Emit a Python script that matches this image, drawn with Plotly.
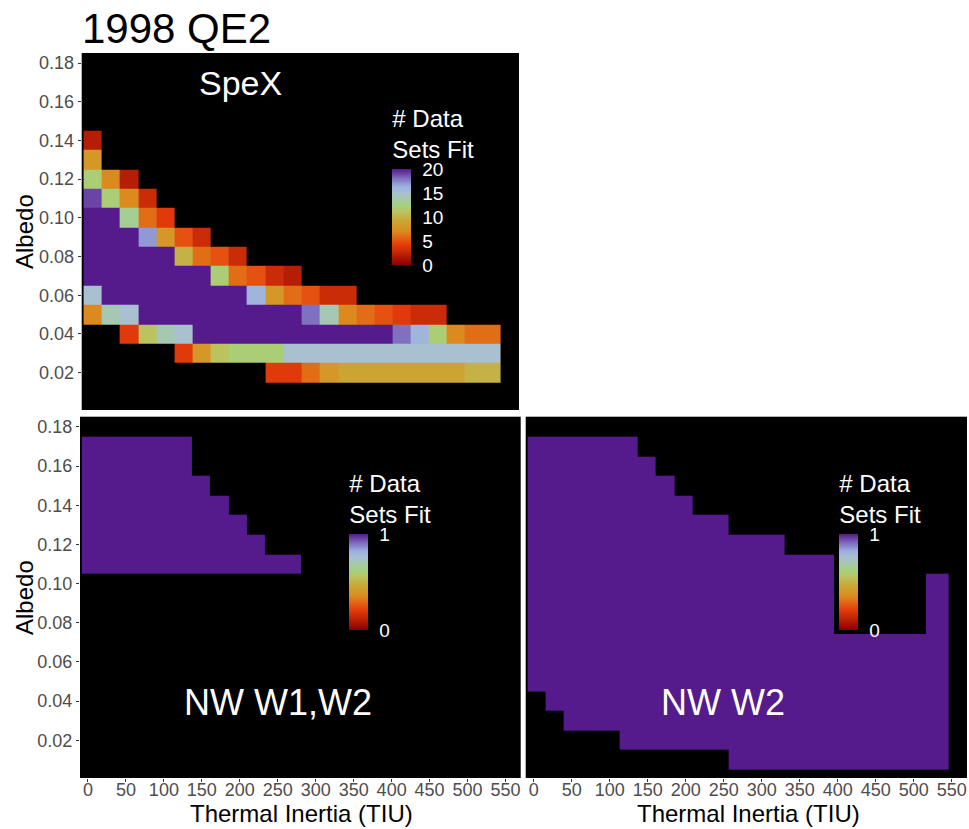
import plotly.graph_objects as go

# ---- data -------------------------------------------------------------
# thermal-inertia grid (TIU) and albedo grid of the model runs
thermal_inertia = [4, 28, 52, 77, 101, 125, 149, 173, 197, 221, 245, 269,
                   293, 318, 342, 366, 390, 414, 438, 462, 486, 510, 534]
albedo = [0.01, 0.02, 0.03, 0.04, 0.05, 0.06, 0.07, 0.08, 0.09,
          0.10, 0.11, 0.12, 0.13, 0.14, 0.15, 0.16, 0.17]
ti_ticks = [0, 50, 100, 150, 200, 250, 300, 350, 400, 450, 500, 550]
albedo_ticks = [0.02, 0.04, 0.06, 0.08, 0.10, 0.12, 0.14, 0.16, 0.18]

N = None
# SpeX: number of data sets fit, one list per albedo row
spex_a002 = [N, N, N, N, N, N, N, N, N, N, 4, 4, 6, 8, 9, 9, 9, 9, 9, 9, 9, 10, 10]
spex_a003 = [N, N, N, N, N, 4, 8, 11, 12, 12, 12, 15, 15, 15, 15, 15, 15, 15, 15, 15, 15, 15, 15]
spex_a004 = [N, N, 4, 11, 14, 15, 20, 20, 20, 20, 20, 20, 20, 20, 20, 20, 20, 18, 16, 12, 7, 6, 6]
spex_a005 = [7, 14, 15, 20, 20, 20, 20, 20, 20, 20, 20, 20, 18, 14, 7, 6, 5, 4, 3, 3, N, N, N]
spex_a006 = [15, 20, 20, 20, 20, 20, 20, 20, 20, 16, 8, 6, 5, 3, 3, N, N, N, N, N, N, N, N]
spex_a007 = [20, 20, 20, 20, 20, 20, 20, 12, 6, 5, 3, 2, N, N, N, N, N, N, N, N, N, N, N]
spex_a008 = [20, 20, 20, 20, 20, 10, 6, 5, 3, N, N, N, N, N, N, N, N, N, N, N, N, N, N]
spex_a009 = [20, 20, 20, 17, 8, 5, 3, N, N, N, N, N, N, N, N, N, N, N, N, N, N, N, N]
spex_a010 = [20, 20, 13, 6, 4, N, N, N, N, N, N, N, N, N, N, N, N, N, N, N, N, N, N]
spex_a011 = [19, 12, 7, 3, N, N, N, N, N, N, N, N, N, N, N, N, N, N, N, N, N, N, N]
spex_a012 = [12, 7, 2, N, N, N, N, N, N, N, N, N, N, N, N, N, N, N, N, N, N, N, N]
spex_a013 = [8, N, N, N, N, N, N, N, N, N, N, N, N, N, N, N, N, N, N, N, N, N, N]
spex_a014 = [2, N, N, N, N, N, N, N, N, N, N, N, N, N, N, N, N, N, N, N, N, N, N]

# NEOWISE fits: lowest and highest fitted albedo in each thermal-inertia column
nw12_low = [0.11, 0.11, 0.11, 0.11, 0.11, 0.11, 0.11, 0.11, 0.11, 0.11, 0.11, 0.11,
            N, N, N, N, N, N, N, N, N, N, N]
nw12_high = [0.17, 0.17, 0.17, 0.17, 0.17, 0.17, 0.15, 0.14, 0.13, 0.12, 0.11, 0.11,
             N, N, N, N, N, N, N, N, N, N, N]
nw2_low = [0.05, 0.04, 0.03, 0.03, 0.03, 0.02, 0.02, 0.02, 0.02, 0.02, 0.02, 0.01,
           0.01, 0.01, 0.01, 0.01, 0.01, 0.01, 0.01, 0.01, 0.01, 0.01, 0.01]
nw2_high = [0.17, 0.17, 0.17, 0.17, 0.17, 0.17, 0.16, 0.15, 0.14, 0.13, 0.13, 0.12,
            0.12, 0.12, 0.11, 0.11, 0.11, 0.11, 0.11, 0.11, 0.11, 0.10, 0.10]

# ---- grids --------------------------------------------------------------
empty_row = [N] * len(thermal_inertia)
spex_rows = {0.02: spex_a002, 0.03: spex_a003, 0.04: spex_a004, 0.05: spex_a005,
             0.06: spex_a006, 0.07: spex_a007, 0.08: spex_a008, 0.09: spex_a009,
             0.10: spex_a010, 0.11: spex_a011, 0.12: spex_a012, 0.13: spex_a013,
             0.14: spex_a014}
spex_z = [spex_rows.get(a, empty_row) for a in albedo]


def fit_mask(low, high):
    z = []
    for a in albedo:
        row = []
        for lo, hi in zip(low, high):
            ok = lo is not None and lo - 1e-9 <= a <= hi + 1e-9
            row.append(1 if ok else None)
        z.append(row)
    return z


nw12_z = fit_mask(nw12_low, nw12_high)
nw2_z = fit_mask(nw2_low, nw2_high)

# ---- styling ------------------------------------------------------------
FONT = "Liberation Sans, Arial, sans-serif"
W, H = 969, 829
fit_scale = [
    [0.00, "#8B0000"],
    [0.22, "#E8400C"],
    [0.35, "#DC8A1E"],
    [0.47, "#C9A937"],
    [0.55, "#BCC25E"],
    [0.62, "#A4D280"],
    [0.75, "#A8C0D0"],
    [0.82, "#9CB0E0"],
    [0.90, "#8070C0"],
    [1.00, "#551A8B"],
]

BAR_PX = 101     # length of the colour bar itself
TITLE_PX = 66    # room taken by the two-line legend title above it


def colorbar(left_px, bottom_px, tickvals):
    return dict(
        x=(left_px - 5) / W, xanchor="left", xref="paper",
        y=1 - bottom_px / H, yanchor="bottom", yref="paper",
        len=BAR_PX + TITLE_PX, lenmode="pixels",
        thickness=19, thicknessmode="pixels",
        xpad=5, ypad=4, bgcolor="black", outlinewidth=0, borderwidth=0,
        tickvals=tickvals, ticks="outside", ticklen=8,
        tickcolor="rgba(0,0,0,0)",
        tickfont=dict(family=FONT, size=19, color="white"),
        title=dict(text="# Data<br>Sets Fit", side="top",
                   font=dict(family=FONT, size=24, color="white")),
    )


fig = go.Figure()
fig.add_trace(go.Heatmap(
    x=thermal_inertia, y=albedo, z=spex_z, zmin=0, zmax=20,
    colorscale=fit_scale, xaxis="x", yaxis="y", hoverongaps=False,
    colorbar=colorbar(392.3, 269, [0, 5, 10, 15, 20]),
))
fig.add_trace(go.Heatmap(
    x=thermal_inertia, y=albedo, z=nw12_z, zmin=0, zmax=1,
    colorscale=fit_scale, xaxis="x2", yaxis="y2", hoverongaps=False,
    colorbar=colorbar(349.3, 634, [0, 1]),
))
fig.add_trace(go.Heatmap(
    x=thermal_inertia, y=albedo, z=nw2_z, zmin=0, zmax=1,
    colorscale=fit_scale, xaxis="x3", yaxis="y3", hoverongaps=False,
    colorbar=colorbar(839.3, 634, [0, 1]),
))

x_range = [-10.5, 570]
y_range = [0.0007, 0.1852]
tickfont = dict(family=FONT, size=18, color="#4D4D4D")


def xaxis(domain, labels):
    return dict(domain=domain, range=x_range, showgrid=False, zeroline=False,
                tickvals=ti_ticks, showticklabels=labels,
                ticks="outside" if labels else "", ticklen=3,
                ticklabelstandoff=-8 if labels else 0,
                tickcolor="#333333", tickfont=tickfont, fixedrange=True)


def yaxis(domain, anchor, labels):
    return dict(domain=domain, anchor=anchor, range=y_range, showgrid=False,
                zeroline=False, tickvals=albedo_ticks, tickformat=".2f",
                showticklabels=labels, ticks="outside" if labels else "",
                ticklen=3, tickcolor="#333333", tickfont=tickfont,
                fixedrange=True)


top_y = [1 - 410 / H, 1 - 53 / H]
bot_y = [1 - 778 / H, 1 - 416.7 / H]

fig.update_layout(
    width=W, height=H,
    margin=dict(l=0, r=0, t=0, b=0),
    paper_bgcolor="white",
    plot_bgcolor="black",
    font=dict(family=FONT),
    showlegend=False,
    xaxis=dict(xaxis([81.7 / W, 519 / W], False), anchor="y"),
    yaxis=yaxis(top_y, "x", True),
    xaxis2=dict(xaxis([80 / W, 520.7 / W], True), anchor="y2"),
    yaxis2=yaxis(bot_y, "x2", True),
    xaxis3=dict(xaxis([525.7 / W, 967 / W], True), anchor="y3"),
    yaxis3=yaxis(bot_y, "x3", False),
)

title_font = dict(family=FONT, size=24, color="black")
panel_font = dict(family=FONT, size=36, color="white")
annotations = [
    dict(text="1998 QE2", x=80 / W, y=1 - 28 / H, xanchor="left",
         yanchor="middle", font=dict(family=FONT, size=42, color="black")),
    dict(text="SpeX", x=240 / W, y=1 - 83 / H, xanchor="center",
         yanchor="middle", font=dict(family=FONT, size=34, color="white")),
    dict(text="NW W1,W2", x=278 / W, y=1 - 702 / H, xanchor="center",
         yanchor="middle", font=panel_font),
    dict(text="NW W2", x=723 / W, y=1 - 702 / H, xanchor="center",
         yanchor="middle", font=panel_font),
    dict(text="Albedo", x=24 / W, y=1 - 232 / H, textangle=-90,
         xanchor="center", yanchor="middle", font=title_font),
    dict(text="Albedo", x=24 / W, y=1 - 598 / H, textangle=-90,
         xanchor="center", yanchor="middle", font=title_font),
    dict(text="Thermal Inertia (TIU)", x=301 / W, y=1 - 813 / H,
         xanchor="center", yanchor="middle", font=title_font),
    dict(text="Thermal Inertia (TIU)", x=748 / W, y=1 - 813 / H,
         xanchor="center", yanchor="middle", font=title_font),
]
for a in annotations:
    a.update(xref="paper", yref="paper", showarrow=False)
fig.update_layout(annotations=annotations)

fig.write_html("out.html")
